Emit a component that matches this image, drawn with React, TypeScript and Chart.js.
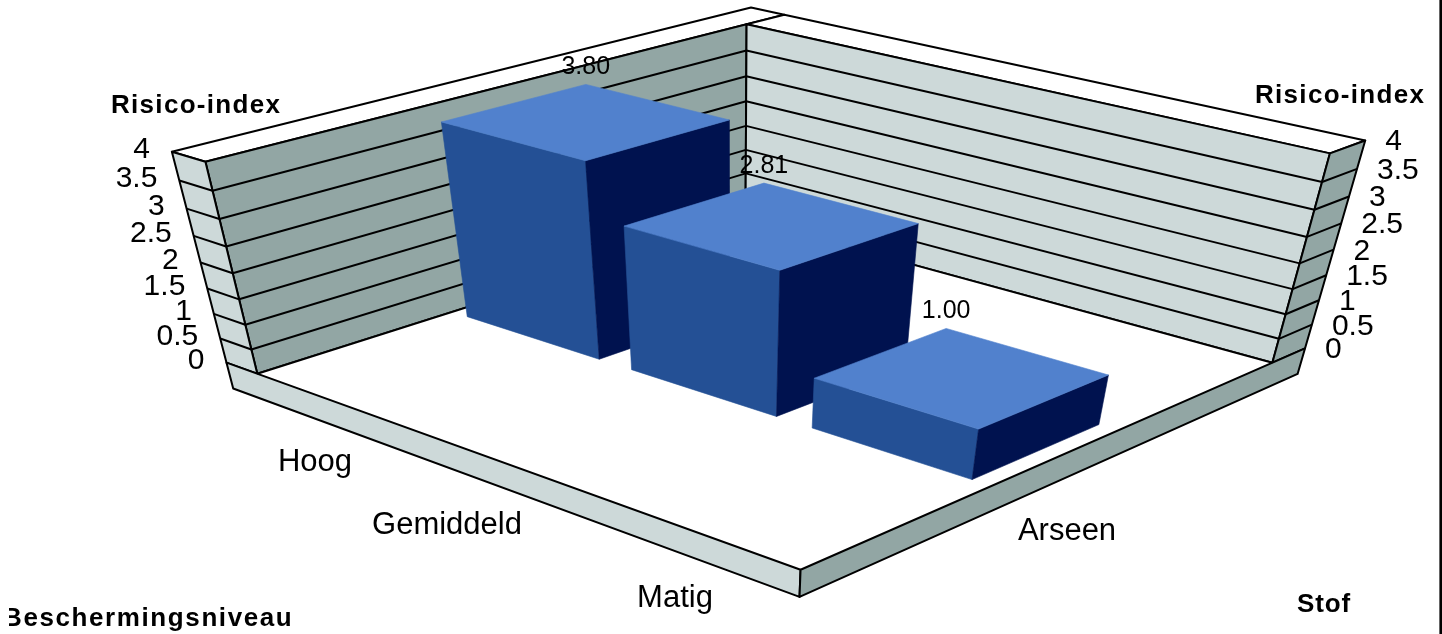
import React, { useEffect, useRef } from "react";
import { Chart, registerables } from "chart.js";

Chart.register(...registerables);

const categories = ["Hoog", "Gemiddeld", "Matig"];
const seriesName = "Arseen";
const values = [3.8, 2.81, 1.0];
const valueLabels = ["3.80", "2.81", "1.00"];
const yTicks = [0, 0.5, 1, 1.5, 2, 2.5, 3, 3.5, 4];
const yAxisTitle = "Risico-index";
const categoryAxisTitle = "Beschermingsniveau";
const seriesAxisTitle = "Stof";

type V3 = [number, number, number];
type Fit = [V3, [number, number]];
const E = 0.2; // left wall thickness
const F = 0.083; // right wall thickness
const T = 0.55; // floor thickness
const Z0 = 0.365;
const Z1 = 0.635;
const FIT: Fit[] = [
  [[0, 0, 0], [257, 372]],
  [[0, 4, 0], [206, 163]],
  [[0, 0, 1], [746, 222]],
  [[0, 4, 1], [746, 22]],
  [[3, 0, 1], [1273, 360]],
  [[3, 4, 1], [1330, 155]],
  [[3, 0, 0], [800, 569]],
  [[3, -T, 0], [800, 599]],
  [[-E, -T, 0], [233, 388]],
  [[3, -T, 1 + F], [1297, 374]],
];

function solveCamera(): number[] {
  const rows: number[][] = [];
  const rhs: number[] = [];
  for (const [[X, Y, Z], [u, v]] of FIT) {
    rows.push([X, Y, Z, 1, 0, 0, 0, 0, -u * X, -u * Y, -u * Z]);
    rhs.push(u);
    rows.push([0, 0, 0, 0, X, Y, Z, 1, -v * X, -v * Y, -v * Z]);
    rhs.push(v);
  }
  const n = 11;
  const A: number[][] = [];
  for (let i = 0; i < n; i++) {
    const r: number[] = new Array(n + 1).fill(0);
    for (let k = 0; k < rows.length; k++) {
      for (let j = 0; j < n; j++) r[j] += rows[k][i] * rows[k][j];
      r[n] += rows[k][i] * rhs[k];
    }
    A.push(r);
  }
  for (let c = 0; c < n; c++) {
    let p = c;
    for (let r = c + 1; r < n; r++) if (Math.abs(A[r][c]) > Math.abs(A[p][c])) p = r;
    [A[c], A[p]] = [A[p], A[c]];
    for (let r = 0; r < n; r++) {
      if (r === c) continue;
      const m = A[r][c] / A[c][c];
      for (let j = c; j <= n; j++) A[r][j] -= m * A[c][j];
    }
  }
  return A.map((r, i) => r[n] / r[i]);
}

const CAM = solveCamera();
function proj(x: number, y: number, z: number): [number, number] {
  const w = CAM[8] * x + CAM[9] * y + CAM[10] * z + 1;
  return [
    (CAM[0] * x + CAM[1] * y + CAM[2] * z + CAM[3]) / w,
    (CAM[4] * x + CAM[5] * y + CAM[6] * z + CAM[7]) / w,
  ];
}

const LIGHT = "#cdd9d9";
const DARK = "#92a6a4";
const TOP = "#5181cd";
const LEFT = "#245095";
const RIGHT = "#00124f";
const LINE = 2;
const FONT = '"Liberation Sans", Arial, sans-serif';

const CAT_LABELS: [number, number][] = [
  [315, 471],
  [447, 534],
  [675, 607],
];

const plugin = {
  id: "threeD",
  afterDatasetsDraw(chart: any) {
    const ctx: CanvasRenderingContext2D = chart.ctx;
    const { y: ys } = chart.scales;
    const area = chart.chartArea;
    const yWorld = (px: number) => ((ys.bottom - px) / (ys.bottom - ys.top)) * 4;
    const xWorld = (px: number) => ((px - area.left) / (area.right - area.left)) * categories.length;

    const poly = (pts: [number, number][], fill: string | null, stroke: boolean) => {
      ctx.beginPath();
      pts.forEach((p, i) => (i ? ctx.lineTo(p[0], p[1]) : ctx.moveTo(p[0], p[1])));
      ctx.closePath();
      if (fill) {
        ctx.fillStyle = fill;
        ctx.fill();
      }
      if (stroke) {
        ctx.strokeStyle = "#000";
        ctx.lineWidth = LINE;
        ctx.lineJoin = "round";
        ctx.stroke();
      } else if (fill) {
        ctx.strokeStyle = fill;
        ctx.lineWidth = 0.6;
        ctx.stroke();
      }
    };
    const seg = (a: [number, number], b: [number, number]) => {
      ctx.beginPath();
      ctx.moveTo(a[0], a[1]);
      ctx.lineTo(b[0], b[1]);
      ctx.strokeStyle = "#000";
      ctx.lineWidth = LINE;
      ctx.stroke();
    };
    const X = categories.length;
    const maxY = yWorld(ys.getPixelForValue(4));

    ctx.save();
    // wall tops
    poly([proj(-E, maxY, 0), proj(0, maxY, 0), proj(0, maxY, 1 + F), proj(-E, maxY, 1 + F)], "#fff", true);
    poly([proj(0, maxY, 1), proj(X, maxY, 1), proj(X, maxY, 1 + F), proj(0, maxY, 1 + F)], "#fff", true);
    // left wall
    poly([proj(0, 0, 0), proj(0, maxY, 0), proj(0, maxY, 1), proj(0, 0, 1)], DARK, true);
    // right wall
    poly([proj(0, 0, 1), proj(0, maxY, 1), proj(X, maxY, 1), proj(X, 0, 1)], LIGHT, true);
    // side faces
    poly([proj(-E, 0, 0), proj(-E, maxY, 0), proj(0, maxY, 0), proj(0, 0, 0)], LIGHT, true);
    poly([proj(X, 0, 1), proj(X, maxY, 1), proj(X, maxY, 1 + F), proj(X, 0, 1 + F)], DARK, true);
    // floor
    poly([proj(0, 0, 0), proj(X, 0, 0), proj(X, 0, 1), proj(0, 0, 1)], "#fff", false);
    // slab
    poly([proj(-E, 0, 0), proj(X, 0, 0), proj(X, -T, 0), proj(-E, -T, 0)], LIGHT, true);
    poly([proj(X, 0, 0), proj(X, 0, 1 + F), proj(X, -T, 1 + F), proj(X, -T, 0)], DARK, true);
    seg(proj(0, 0, 0), proj(0, 0, 1));
    seg(proj(0, 0, 1), proj(X, 0, 1));
    // grid lines
    for (const t of yTicks) {
      const h = yWorld(ys.getPixelForValue(t));
      if (h <= 0 || h >= maxY) continue;
      seg(proj(-E, h, 0), proj(0, h, 0));
      seg(proj(0, h, 0), proj(0, h, 1));
      seg(proj(0, h, 1), proj(X, h, 1));
      seg(proj(X, h, 1), proj(X, h, 1 + F));
    }

    // bars
    const els = chart.getDatasetMeta(0).data;
    els.forEach((el: any) => {
      const x0 = xWorld(el.x - el.width / 2);
      const x1 = xWorld(el.x + el.width / 2);
      const h = yWorld(el.y);
      poly([proj(x0, 0, Z0), proj(x1, 0, Z0), proj(x1, h, Z0), proj(x0, h, Z0)], LEFT, false);
      poly([proj(x1, 0, Z0), proj(x1, 0, Z1), proj(x1, h, Z1), proj(x1, h, Z0)], RIGHT, false);
      poly([proj(x0, h, Z0), proj(x1, h, Z0), proj(x1, h, Z1), proj(x0, h, Z1)], TOP, false);
    });

    // value labels
    ctx.fillStyle = "#000";
    ctx.textBaseline = "alphabetic";
    ctx.textAlign = "center";
    ctx.font = `25px ${FONT}`;
    els.forEach((el: any, i: number) => {
      const x0 = xWorld(el.x - el.width / 2);
      const p = proj(x0, yWorld(el.y), Z1);
      ctx.fillText(valueLabels[i], p[0], p[1] - 10);
    });

    // tick labels
    ctx.font = `30px ${FONT}`;
    yTicks.forEach((t) => {
      const h = yWorld(ys.getPixelForValue(t));
      const l = proj(-E, h, 0);
      ctx.textAlign = "right";
      ctx.fillText(String(t), l[0] - 22, l[1] + 6);
      const r = proj(X, h, 1 + F);
      ctx.textAlign = "left";
      ctx.fillText(String(t), r[0] + 20, r[1] + 10);
    });

    // category labels
    ctx.font = `31px ${FONT}`;
    ctx.textAlign = "center";
    categories.forEach((c, i) => ctx.fillText(c, CAT_LABELS[i][0], CAT_LABELS[i][1]));
    ctx.fillText(seriesName, 1067, 540);

    // axis titles
    ctx.font = `bold 26px ${FONT}`;
    ctx.textAlign = "left";
    (ctx as any).letterSpacing = "1.3px";
    ctx.fillText(yAxisTitle, 111, 113);
    ctx.fillText(yAxisTitle, 1255, 103);
    (ctx as any).letterSpacing = "0.9px";
    ctx.fillText(seriesAxisTitle, 1297, 612);
    ctx.save();
    ctx.beginPath();
    ctx.rect(9, 590, 400, 44);
    ctx.clip();
    (ctx as any).letterSpacing = "1.6px";
    ctx.fillText(categoryAxisTitle, 3, 626);
    ctx.restore();
    (ctx as any).letterSpacing = "0px";

    // frame line at the right edge
    ctx.fillStyle = "#000";
    ctx.fillRect(1439.4, 0, 2.6, 634);
    ctx.restore();
  },
};

export default function App() {
  const ref = useRef<HTMLCanvasElement>(null);
  useEffect(() => {
    const chart = new Chart(ref.current as HTMLCanvasElement, {
      type: "bar",
      data: {
        labels: categories,
        datasets: [
          {
            label: seriesName,
            data: values,
            backgroundColor: "rgba(0,0,0,0)",
            categoryPercentage: 1,
            barPercentage: 0.81,
          },
        ],
      },
      options: {
        responsive: false,
        animation: false,
        devicePixelRatio: 1,
        layout: { padding: 0 },
        plugins: { legend: { display: false }, tooltip: { enabled: false } },
        scales: {
          x: { display: false },
          y: { display: false, min: 0, max: 4, ticks: { stepSize: 0.5 } },
        },
      },
      plugins: [plugin],
    } as any);
    return () => chart.destroy();
  }, []);
  return (
    <div style={{ position: "fixed", left: 0, top: 0, width: 1442, height: 634, background: "#fff" }}>
      <canvas ref={ref} width={1442} height={634} style={{ display: "block" }} />
    </div>
  );
}
